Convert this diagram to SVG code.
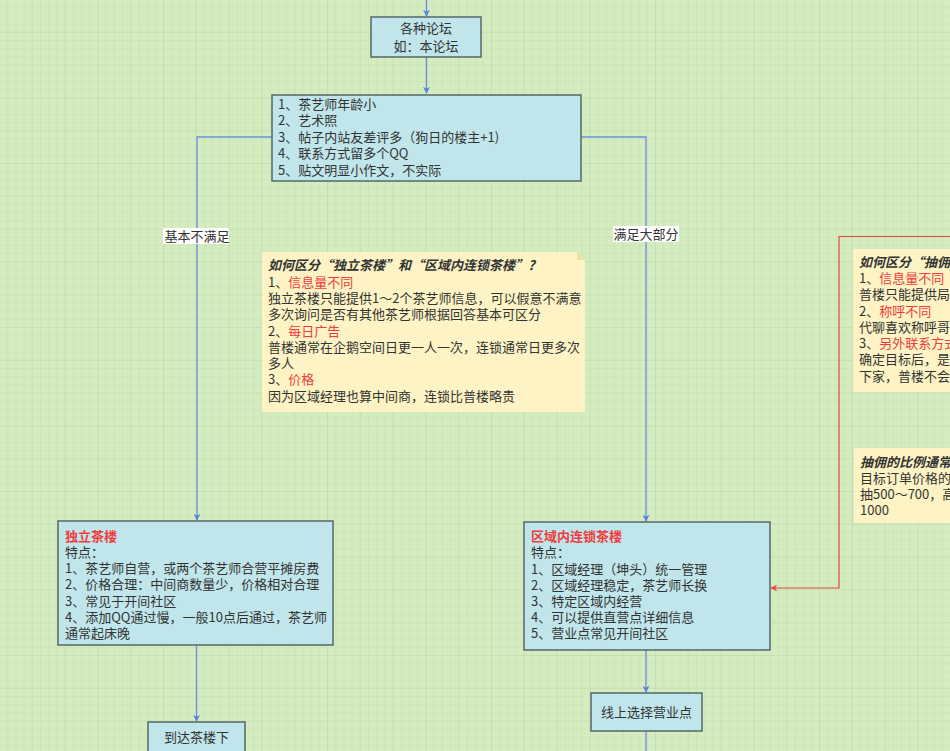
<svg xmlns="http://www.w3.org/2000/svg" width="950" height="751" viewBox="0 0 950 751">
<defs>
<pattern id="minor" width="8.2" height="8.2" patternUnits="userSpaceOnUse">
<path d="M8.2 0V8.2M0 8.2H8.2" fill="none" stroke="#c5e1b0" stroke-width="1"/>
</pattern>
<pattern id="major" width="32.8" height="32.8" patternUnits="userSpaceOnUse">
<path d="M32.8 0V32.8M0 32.8H32.8" fill="none" stroke="#bfdba9" stroke-width="1"/>
</pattern>
<marker id="ab" viewBox="0 0 10 10" refX="9" refY="5" markerWidth="7" markerHeight="7" orient="auto" markerUnits="userSpaceOnUse">
<path d="M0 0L10 5L0 10L3 5Z" fill="#5a7fe0"/>
</marker>
<marker id="ar" viewBox="0 0 10 10" refX="9" refY="5" markerWidth="7" markerHeight="7" orient="auto" markerUnits="userSpaceOnUse">
<path d="M0 0L10 5L0 10L3 5Z" fill="#e5493f"/>
</marker>
</defs>
<style>
text{font-family:"Noto Sans CJK SC","Noto Sans",sans-serif;font-size:13px;fill:#333}
.box{fill:#c0e6eb;stroke:#56676a;stroke-width:1.5}
.note{fill:#fdf3c4}
.c{stroke:#6a8ee0;stroke-width:1.3;fill:none}
.r{fill:#f03c3c}
.b{font-weight:bold;font-style:italic}
.t{font-weight:bold;fill:#f03c3c}
.lbl{fill:#fff}
.m{text-anchor:middle}
</style>
<rect width="950" height="751" fill="#d4ecc0"/>
<rect width="950" height="751" fill="url(#minor)"/>
<rect width="950" height="751" fill="url(#major)"/>

<g id="connectors">
<path class="c" d="M426.5 0V16" marker-end="url(#ab)"/>
<path class="c" d="M426.5 57V93" marker-end="url(#ab)"/>
<path class="c" d="M272 137H197V520" marker-end="url(#ab)"/>
<path class="c" d="M581 137H646V521" marker-end="url(#ab)"/>
<path class="c" d="M196.5 645V721" marker-end="url(#ab)"/>
<path class="c" d="M646 650V692" marker-end="url(#ab)"/>
<path class="c" d="M646 731V751"/>
<path d="M950 236.5H839V588H771" fill="none" stroke="#e5493f" stroke-width="1.2" marker-end="url(#ar)"/>
<rect class="lbl" x="163" y="228" width="66" height="16"/>
<text x="164.5" y="241">基本不满足</text>
<rect class="lbl" x="613" y="226" width="66" height="16"/>
<text x="613.5" y="239">满足大部分</text>
</g>

<g id="forum">
<rect class="box" x="371" y="17" width="110" height="40"/>
<text class="m" x="426" y="33">各种论坛</text>
<text class="m" x="426" y="51">如：本论坛</text>
</g>

<g id="signs">
<rect class="box" x="272" y="95" width="309" height="86"/>
<text x="278" y="109">1、茶艺师年龄小</text>
<text x="278" y="125">2、艺术照</text>
<text x="278" y="142">3、帖子内站友差评多（狗日的楼主+1)</text>
<text x="278" y="158">4、联系方式留多个QQ</text>
<text x="278" y="175">5、贴文明显小作文，不实际</text>
</g>

<g id="note1">
<path class="note" d="M262 252H577L585 260V412H262Z"/>
<path d="M577 252V260H585" fill="#ece0a4"/>
<text class="b" x="268" y="270">如何区分“独立茶楼”和“区域内连锁茶楼”?</text>
<text x="268" y="287">1、<tspan class="r">信息量不同</tspan></text>
<text x="268" y="303">独立茶楼只能提供1～2个茶艺师信息，可以假意不满意</text>
<text x="268" y="319">多次询问是否有其他茶艺师根据回答基本可区分</text>
<text x="268" y="336">2、<tspan class="r">每日广告</tspan></text>
<text x="268" y="352">普楼通常在企鹅空间日更一人一次，连锁通常日更多次</text>
<text x="268" y="368">多人</text>
<text x="268" y="384">3、<tspan class="r">价格</tspan></text>
<text x="268" y="401">因为区域经理也算中间商，连锁比普楼略贵</text>
</g>

<g id="note2">
<rect class="note" x="853" y="249" width="110" height="143"/>
<text class="b" x="859" y="267">如何区分“抽佣</text>
<text x="859" y="283">1、<tspan class="r">信息量不同</tspan></text>
<text x="859" y="299">普楼只能提供局</text>
<text x="859" y="316">2、<tspan class="r">称呼不同</tspan></text>
<text x="859" y="332">代聊喜欢称呼哥</text>
<text x="859" y="348">3、<tspan class="r">另外联系方式</tspan></text>
<text x="859" y="364">确定目标后，是</text>
<text x="859" y="381">下家，普楼不会</text>
</g>

<g id="note3">
<rect class="note" x="854" y="448" width="110" height="75"/>
<text class="b" x="860" y="467">抽佣的比例通常</text>
<text x="860" y="483">目标订单价格的</text>
<text x="860" y="499">抽500～700，高</text>
<text x="860" y="515">1000</text>
</g>

<g id="independent">
<rect class="box" x="58" y="521" width="275" height="124"/>
<text class="t" x="65" y="541">独立茶楼</text>
<text x="65" y="557">特点：</text>
<text x="65" y="573">1、茶艺师自营，或两个茶艺师合营平摊房费</text>
<text x="65" y="589">2、价格合理：中间商数量少，价格相对合理</text>
<text x="65" y="606">3、常见于开间社区</text>
<text x="65" y="622">4、添加QQ通过慢，一般10点后通过，茶艺师</text>
<text x="65" y="638">通常起床晚</text>
</g>

<g id="chain">
<rect class="box" x="524" y="522" width="246" height="128"/>
<text class="t" x="531" y="541">区域内连锁茶楼</text>
<text x="531" y="557">特点：</text>
<text x="531" y="574">1、区域经理（坤头）统一管理</text>
<text x="531" y="590">2、区域经理稳定，茶艺师长换</text>
<text x="531" y="606">3、特定区域内经营</text>
<text x="531" y="622">4、可以提供直营点详细信息</text>
<text x="531" y="638">5、营业点常见开间社区</text>
</g>

<g id="arrive">
<rect class="box" x="148" y="722" width="97" height="40"/>
<text class="m" x="196.5" y="742">到达茶楼下</text>
</g>

<g id="online">
<rect class="box" x="591" y="693" width="111" height="38"/>
<text class="m" x="646.5" y="717">线上选择营业点</text>
</g>
</svg>
